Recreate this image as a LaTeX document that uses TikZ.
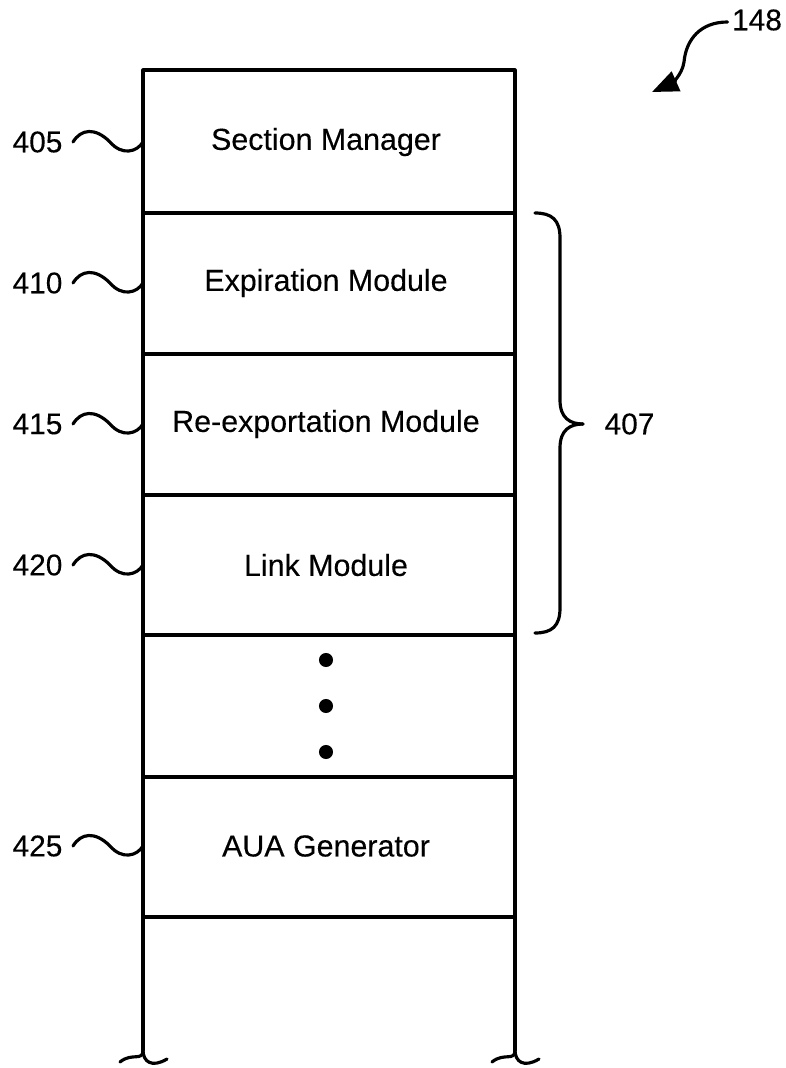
\documentclass[tikz,border=0pt]{standalone}
\usepackage{fontspec}
\setmainfont{Liberation Sans}[BoldFont=Liberation Sans,BoldFeatures={FakeBold=0.25}]
\usetikzlibrary{arrows.meta}
\begin{document}
\begin{tikzpicture}[x=0.02cm,y=-0.02cm,
  every path/.style={line width=1.8pt,line cap=round,line join=round},
  modtext/.style={font=\fontsize{17.3}{19}\selectfont\bfseries,inner sep=0pt},
  reftext/.style={font=\fontsize{17}{19}\selectfont\bfseries,inner sep=0pt},
  dotmark/.style={circle,fill=black,inner sep=0pt,minimum size=8pt}]
\useasboundingbox (0,0) rectangle (786,1068);
% column
\coordinate (tl) at (143,70);
\coordinate (tr) at (515,70);
\coordinate (bl) at (143,1050);
\coordinate (br) at (515,1050);
\draw (bl) -- (tl) -- (tr) -- (br);
\foreach \y in {213,354,495,635,777,917} \draw (143,\y) -- (515,\y);
% broken ends
\draw (bl) .. controls (143,1062) and (152,1068) .. (167,1059);
\draw (bl) .. controls (143,1062) and (132,1052) .. (120,1062);
\draw (br) .. controls (515,1062) and (524,1068) .. (539,1059);
\draw (br) .. controls (515,1062) and (504,1052) .. (492,1062);
% module texts
\node[modtext] (sm) at (326,142) {Section Manager};
\node[modtext] (em) at (326,283) {Expiration Module};
\node[modtext] (rm) at (326,424) {Re-exportation Module};
\node[modtext] (lm) at (326,565) {Link Module};
\node[dotmark] (d1) at (326,660) {};
\node[dotmark] (d2) at (326,706) {};
\node[dotmark] (d3) at (326,752) {};
\node[modtext] (aua) at (326,846) {AUA Generator};
% reference labels with squiggles
\foreach \n/\y in {405/142,410/283,415/424,420/565,425/846}{
  \node[reftext,anchor=east] (l\n) at (64,\y) {\n};
  \draw ([xshift=0.18cm]l\n.east) .. controls +(8,-13) and (95,\y-15) .. (110,\y)
        .. controls (122,\y+14) and (137,\y+10) .. (143,\y);
}
% brace 407
\node[reftext,anchor=west] (l407) at (603,424) {407};
\draw (535,213) .. controls (552,213) and (560,220) .. (560,238)
      -- (560,400) .. controls (560,418) and (570,424) .. (583,424);
\draw (535,633) .. controls (552,633) and (560,626) .. (560,608)
      -- (560,448) .. controls (560,430) and (570,424) .. (583,424);
% 148 arrow
\node[reftext] (l148) at (757,20) {148};
\coordinate (a148) at (652,92);
\draw[-{Triangle[length=15pt,width=12pt]}] (l148.west) ++(-3,2)
   .. controls (700,22) and (686,40) .. (684,62)
   .. controls (682,76) and (670,84) .. (a148);
\end{tikzpicture}
\end{document}
